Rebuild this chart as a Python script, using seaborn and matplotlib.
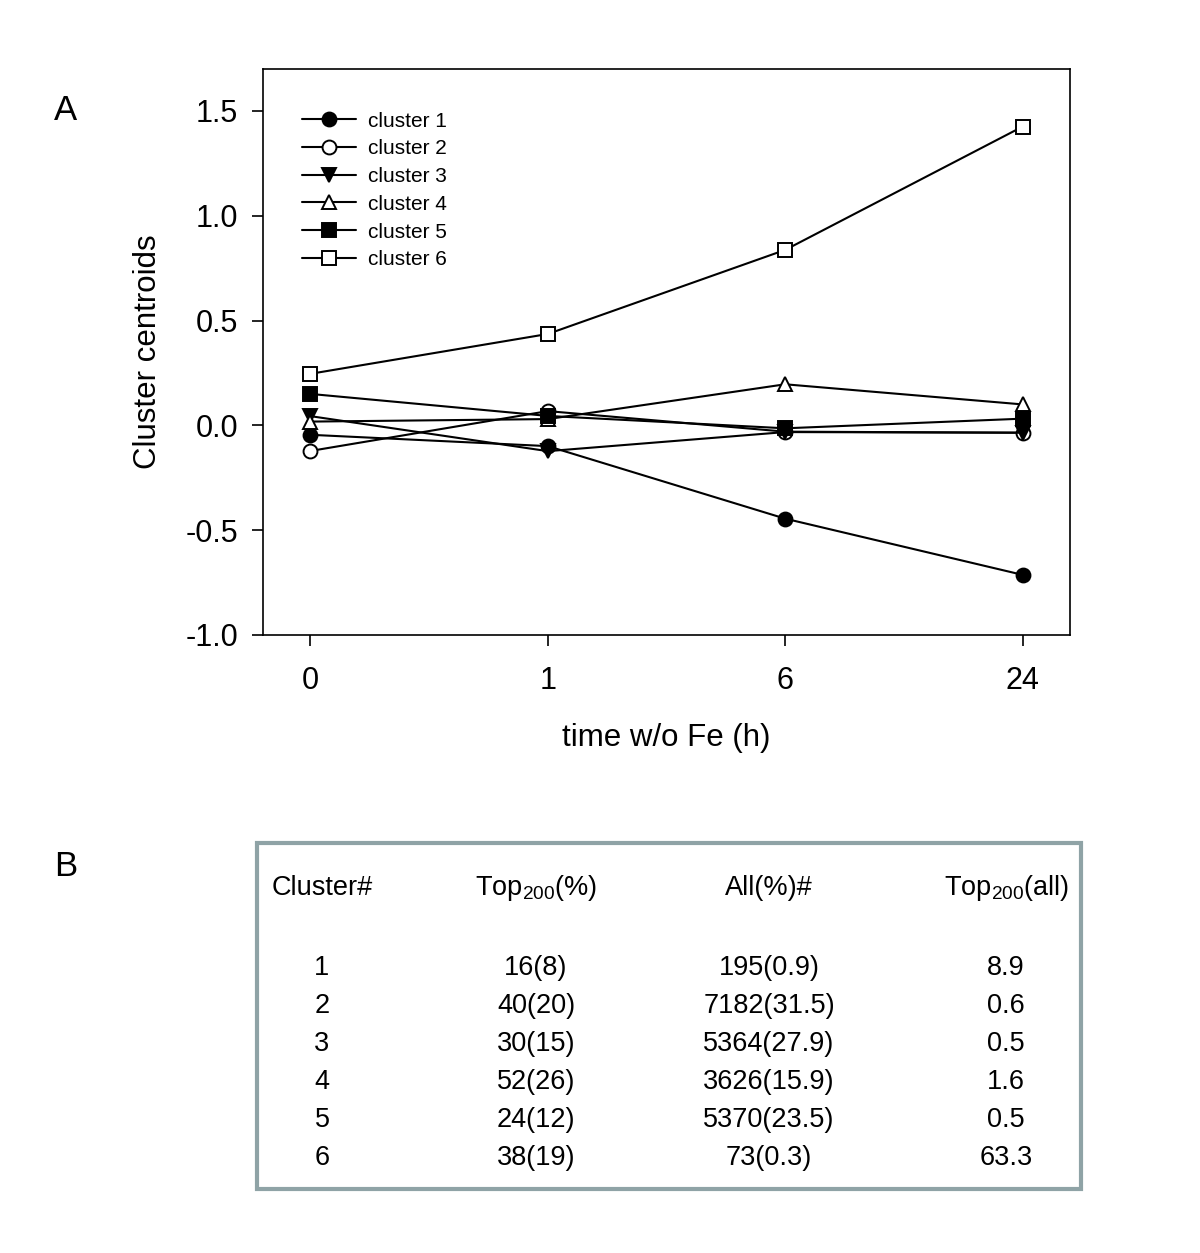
import matplotlib
matplotlib.use("Agg")
import matplotlib.pyplot as plt
import seaborn as sns
import pandas as pd
from matplotlib.patches import Rectangle

# ---------------- data ----------------
time_labels = ["0", "1", "6", "24"]
cluster_names = ["cluster 1", "cluster 2", "cluster 3", "cluster 4", "cluster 5", "cluster 6"]
c1 = [-0.045, -0.099, -0.445, -0.713]
c2 = [-0.122, 0.068, -0.030, -0.035]
c3 = [0.044, -0.123, -0.032, -0.035]
c4 = [0.018, 0.030, 0.196, 0.100]
c5 = [0.150, 0.045, -0.014, 0.032]
c6 = [0.246, 0.436, 0.837, 1.425]

tbl_header = ["Cluster#", r"Top$_{\mathregular{200}}$(%)", "All(%)#", r"Top$_{\mathregular{200}}$(all)"]
tbl_cluster = ["1", "2", "3", "4", "5", "6"]
tbl_top200 = ["16(8)", "40(20)", "30(15)", "52(26)", "24(12)", "38(19)"]
tbl_all = ["195(0.9)", "7182(31.5)", "5364(27.9)", "3626(15.9)", "5370(23.5)", "73(0.3)"]
tbl_ratio = ["8.9", "0.6", "0.5", "1.6", "0.5", "63.3"]

# ---------------- style ----------------
sns.set_theme(style="white")
plt.rcParams["font.family"] = ["Liberation Sans", "DejaVu Sans"]
plt.rcParams["mathtext.fontset"] = "custom"
plt.rcParams["mathtext.rm"] = "Liberation Sans"
plt.rcParams["mathtext.it"] = "Liberation Sans"
plt.rcParams["mathtext.bf"] = "Liberation Sans"
for k in ["text.color", "axes.labelcolor", "xtick.color", "ytick.color"]:
    plt.rcParams[k] = "black"

rows = []
for name, vals in zip(cluster_names, [c1, c2, c3, c4, c5, c6]):
    for i, v in enumerate(vals):
        rows.append({"pos": i, "value": v, "cluster": name})
df = pd.DataFrame(rows)

fig = plt.figure(figsize=(12, 12.53), dpi=100)
ax = fig.add_axes([263 / 1200, 1 - 635 / 1253, (1070 - 263) / 1200, (635 - 69) / 1253])

markers = {"cluster 1": "o", "cluster 2": "o", "cluster 3": "v",
           "cluster 4": "^", "cluster 5": "s", "cluster 6": "s"}
fills = {"cluster 1": "black", "cluster 2": "white", "cluster 3": "black",
         "cluster 4": "white", "cluster 5": "black", "cluster 6": "white"}

for name in cluster_names:
    sub = df[df["cluster"] == name]
    sns.lineplot(data=sub, x="pos", y="value", ax=ax, color="black", lw=1.5,
                 marker=markers[name], markersize=10, markerfacecolor=fills[name],
                 markeredgecolor="black", markeredgewidth=1.4, label=name, zorder=3)

ax.set_xlim(-0.2, 3.2)
ax.set_ylim(-1.0, 1.7)
ax.set_xticks(range(4))
ax.set_xticklabels(time_labels)
ax.set_yticks([-1.0, -0.5, 0.0, 0.5, 1.0, 1.5])
ax.set_yticklabels(["-1.0", "-0.5", "0.0", "0.5", "1.0", "1.5"])
ax.tick_params(axis="both", direction="out", length=8, width=1.2, labelsize=22,
               left=True, bottom=True, top=False, right=False, pad=14)
ax.tick_params(axis="y", pad=10)
for s in ax.spines.values():
    s.set_color("black")
    s.set_linewidth(1.2)
ax.set_xlabel("time w/o Fe (h)", fontsize=22.5, labelpad=20)
ax.set_ylabel("Cluster centroids", fontsize=22.5, labelpad=16)

leg = ax.legend(loc="upper left", frameon=False, fontsize=15, handlelength=2.6,
                bbox_to_anchor=(0.025, 0.958), labelspacing=0.42, handletextpad=0.55)
for t in leg.get_texts():
    t.set_color("black")

fig.text(66 / 1200, 1 - 110 / 1253, "A", fontsize=25, ha="center", va="center")
fig.text(66 / 1200, 1 - 866 / 1253, "B", fontsize=25, ha="center", va="center")

# ---------------- table ----------------
box = Rectangle((257 / 1200, 1 - 1189 / 1253), (1081 - 257) / 1200, (1189 - 843) / 1253,
                transform=fig.transFigure, fill=False, edgecolor="#8fa3a6", linewidth=3)
fig.add_artist(box)

col_x = [322, 536, 769, 1006]
header_y = 888
row_y = [968, 1006, 1044, 1082, 1120, 1158]
for cx, h in zip(col_x, tbl_header):
    fig.text(cx / 1200, 1 - header_y / 1253, h, fontsize=19.5, ha="center", va="center")
for cx, vals in [(col_x[0], tbl_cluster), (col_x[1], tbl_top200), (col_x[2], tbl_all), (col_x[3], tbl_ratio)]:
    for ry, v in zip(row_y, vals):
        fig.text(cx / 1200, 1 - ry / 1253, v, fontsize=19.5, ha="center", va="center")

fig.savefig("out.png", dpi=100)
